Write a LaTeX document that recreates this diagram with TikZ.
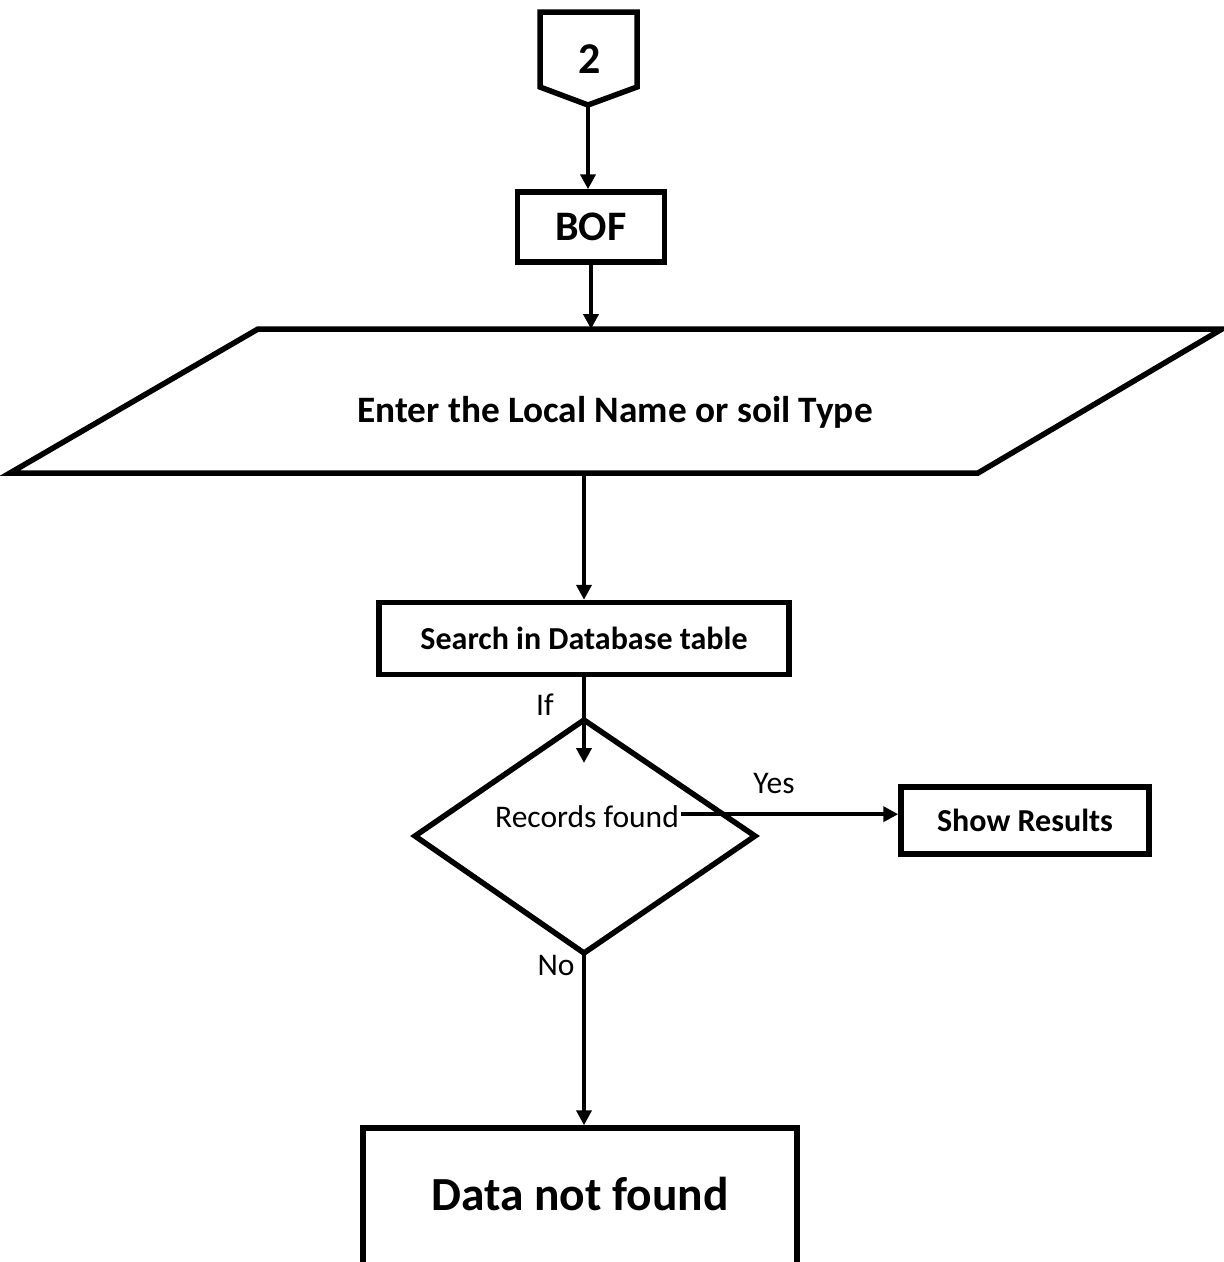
\documentclass[tikz,border=0pt]{standalone}
\usepackage{fontspec}
\setmainfont{Carlito}
\usetikzlibrary{arrows.meta}
\begin{document}
\begin{tikzpicture}[x=1pt,y=-1pt,
  outline/.style={draw,line width=5.5pt,line join=miter},
  box/.style={outline,rectangle,inner sep=0pt,font=\bfseries\fontsize{32}{38}\selectfont},
  bigbox/.style={box,font=\bfseries\fontsize{42}{50}\selectfont},
  flow/.style={line width=4.5pt,-{Triangle[length=15pt,width=15pt]}},
  lbl/.style={inner sep=0pt,font=\fontsize{31.5}{37}\selectfont}]
\useasboundingbox (0,0) rectangle (1224,1262);
\clip (0,0) rectangle (1224,1262);

% off-page connector
\draw[outline] (540,12) -- (637,12) -- (637,87) -- (588,105) -- (540,87) -- cycle;
\coordinate (conn) at (588,105);
\node[inner sep=0pt,font=\bfseries\fontsize{44}{52}\selectfont] (conntext) at (590,59) {2};

% begin of file
\node[bigbox,minimum width=147pt,minimum height=70pt] (bof) at (591,227) {BOF};

% input parallelogram
\draw[outline] (258,329) -- (1222,329) -- (978,473) -- (10,473) -- cycle;
\coordinate (iotop) at (588,329);
\coordinate (iobot) at (584,473);
\node[inner sep=0pt,anchor=base,font=\bfseries\fontsize{37.3}{44}\selectfont] (input) at (615,422) {Enter the Local Name or soil Type};

% search process
\node[box,minimum width=410pt,minimum height=72pt] (search) at (584,638.5) {Search in Database table};

% decision
\draw[outline] (584,720) -- (755,836) -- (584,953) -- (415,836) -- cycle;
\coordinate (dtip) at (584,763);
\coordinate (dbot) at (584,953);
\node[lbl,inner sep=2pt,anchor=base] (rec) at (587,827) {Records found};

% outcomes
\node[box,minimum width=248pt,minimum height=67pt] (show) at (1025,820.5) {Show Results};
\node[outline,rectangle,inner sep=0pt,minimum width=434pt,minimum height=160pt,
      text height=35pt,text depth=31pt,
      font=\bfseries\fontsize{47.5}{56}\selectfont] (nodata) at (580,1208) {Data not found};

% connectors
\draw[flow] (conn) -- (conn |- bof.north);
\draw[flow] (bof.south) -- (bof.south |- iotop);
\draw[flow] (iobot) -- (iobot |- search.north);
\draw[flow] (iobot |- search.south) -- (dtip);
\draw[flow] ([yshift=2pt]rec.east) -- ([yshift=2pt]rec.east -| show.west);
\draw[flow] (dbot) -- (dbot |- nodata.north);

% branch labels
\node[lbl,anchor=base] (iflbl) at (545,715) {If};
\node[lbl,anchor=base] (yeslbl) at (774,793) {Yes};
\node[lbl,anchor=base] (nolbl) at (556,975) {No};
\end{tikzpicture}
\end{document}
